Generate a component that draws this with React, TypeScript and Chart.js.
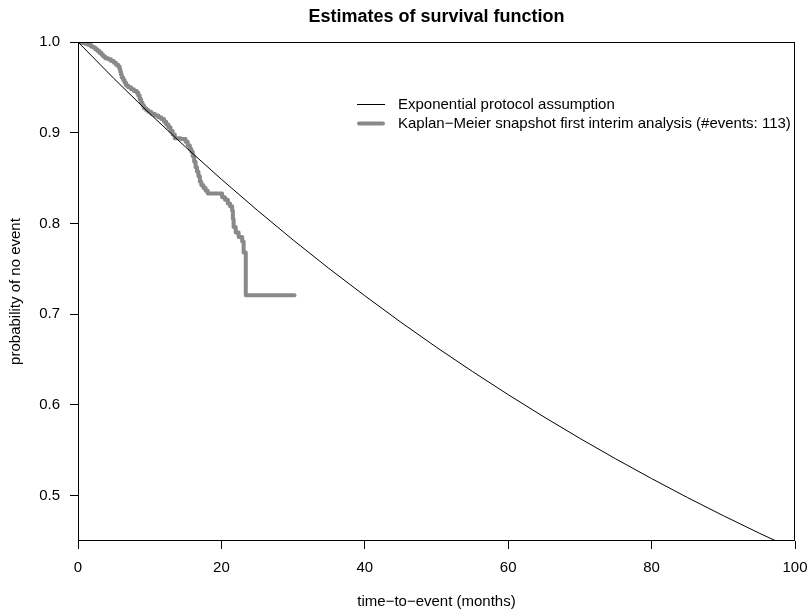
import React, { useEffect, useRef } from "react";
import { Chart, registerables } from "chart.js";

Chart.register(...registerables);

// ---- data ----
const expTimes = [0, 5, 10, 15, 20, 25, 30, 35, 40, 45, 50, 55, 60, 65, 70, 75, 80, 85, 90, 95, 100];
const expSurv = [1.0, 0.9598, 0.9212, 0.8842, 0.8487, 0.8146, 0.7818, 0.7504, 0.7203, 0.6913, 0.6635, 0.6369, 0.6113, 0.5867, 0.5631, 0.5405, 0.5188, 0.4979, 0.4779, 0.4587, 0.4403];

const kmTimes = [0, 0.6, 1.0, 1.4, 1.8, 2.1, 2.4, 2.7, 3.0, 3.3, 3.5, 3.8, 4.2, 4.6, 5.0, 5.3, 5.6, 5.8, 5.9, 6.0, 6.1, 6.3, 6.5, 6.7, 7.0, 7.4, 7.8, 8.2, 8.4, 8.6, 8.8, 9.0, 9.2, 9.5, 9.8, 10.2, 10.7, 11.2, 11.6, 12.0, 12.3, 12.6, 12.9, 13.2, 13.5, 14.3, 15.0, 15.3, 15.6, 15.8, 16.0, 16.2, 16.4, 16.6, 16.8, 17.0, 17.2, 17.5, 17.8, 18.1, 20.1, 20.5, 20.9, 21.2, 21.5, 21.6, 21.7, 22.0, 22.4, 22.9, 23.1, 23.4, 30.2];
const kmSurv = [1.0, 0.999, 0.998, 0.997, 0.995, 0.994, 0.992, 0.99, 0.988, 0.986, 0.984, 0.982, 0.981, 0.979, 0.977, 0.975, 0.973, 0.97, 0.967, 0.964, 0.961, 0.958, 0.955, 0.952, 0.95, 0.948, 0.946, 0.944, 0.941, 0.937, 0.933, 0.93, 0.927, 0.925, 0.923, 0.921, 0.919, 0.917, 0.915, 0.912, 0.909, 0.906, 0.902, 0.898, 0.894, 0.893, 0.89, 0.886, 0.882, 0.879, 0.874, 0.868, 0.862, 0.857, 0.852, 0.846, 0.842, 0.839, 0.836, 0.833, 0.829, 0.826, 0.822, 0.819, 0.814, 0.805, 0.796, 0.79, 0.785, 0.78, 0.768, 0.721, 0.721];

const xTickValues = [0, 20, 40, 60, 80, 100];
const yTickValues = [0.5, 0.6, 0.7, 0.8, 0.9, 1.0];

const titleText = "Estimates of survival function";
const xTitleText = "time\u2212to\u2212event (months)";
const yTitleText = "probability of no event";
const legendLabels = [
  "Exponential protocol assumption",
  "Kaplan\u2212Meier snapshot first interim analysis (#events: 113)",
];

const FONT = "'Liberation Sans', Arial, Helvetica, sans-serif";
const KM_COLOR = "#898989";

const rStylePlugin = {
  id: "rStyle",
  afterDraw(chart: any) {
    const { ctx, chartArea: a } = chart;
    ctx.save();
    // box
    ctx.strokeStyle = "#000";
    ctx.lineWidth = 1;
    ctx.strokeRect(
      Math.round(a.left) + 0.5,
      Math.round(a.top) + 0.5,
      Math.round(a.right - a.left) - 1,
      Math.round(a.bottom - a.top) - 1
    );
    // title
    ctx.fillStyle = "#000";
    ctx.font = `bold 18px ${FONT}`;
    ctx.textAlign = "center";
    ctx.textBaseline = "middle";
    ctx.fillText(titleText, (a.left + a.right) / 2, 17);

    // legend
    ctx.font = `15px ${FONT}`;
    ctx.textAlign = "left";
    const rows = [104.5, 123.5];
    ctx.beginPath();
    ctx.strokeStyle = "#000";
    ctx.lineWidth = 1;
    ctx.moveTo(357, rows[0]);
    ctx.lineTo(385, rows[0]);
    ctx.stroke();
    ctx.beginPath();
    ctx.strokeStyle = KM_COLOR;
    ctx.lineWidth = 4;
    ctx.lineCap = "round";
    ctx.moveTo(359, rows[1]);
    ctx.lineTo(383, rows[1]);
    ctx.stroke();
    ctx.fillStyle = "#000";
    ctx.fillText(legendLabels[0], 398, rows[0]);
    ctx.fillText(legendLabels[1], 398, rows[1]);
    ctx.restore();
  },
};

export default function App() {
  const canvasRef = useRef<HTMLCanvasElement | null>(null);

  useEffect(() => {
    if (!canvasRef.current) return;
    const expData = expTimes.map((t, i) => ({ x: t, y: expSurv[i] }));
    const kmData = kmTimes.map((t, i) => ({ x: t, y: kmSurv[i] }));
    const tickFont = { family: FONT, size: 15 };
    const chart = new Chart(canvasRef.current, {
      type: "line",
      data: {
        datasets: [
          {
            label: legendLabels[0],
            data: expData,
            borderColor: "#000",
            borderWidth: 1,
            pointRadius: 0,
            tension: 0,
            fill: false,
          },
          {
            label: legendLabels[1],
            data: kmData,
            borderColor: KM_COLOR,
            borderWidth: 4,
            pointRadius: 0,
            stepped: true,
            borderJoinStyle: "round",
            borderCapStyle: "round",
            fill: false,
          },
        ],
      },
      options: {
        animation: false,
        responsive: false,
        devicePixelRatio: 1,
        layout: { padding: { top: 42, right: 15, bottom: 0, left: 0 } },
        plugins: {
          legend: { display: false },
          tooltip: { enabled: false },
          title: { display: false },
        },
        scales: {
          x: {
            type: "linear",
            min: 0,
            max: 100,
            afterBuildTicks: (s: any) => {
              s.ticks = xTickValues.map((v) => ({ value: v }));
            },
            afterFit: (s: any) => {
              s.height = 72;
              s.paddingLeft = 0;
              s.paddingRight = 0;
            },
            grid: {
              display: true,
              drawOnChartArea: false,
              drawTicks: true,
              tickLength: 8,
              color: "#000",
              lineWidth: 1,
            },
            border: { display: false },
            ticks: {
              color: "#000",
              font: tickFont,
              padding: 10,
              maxRotation: 0,
              autoSkip: false,
              callback: (v: any) => String(v),
            },
            title: {
              display: true,
              text: xTitleText,
              color: "#000",
              font: tickFont,
              padding: { top: 0, bottom: 2 },
            },
          },
          y: {
            type: "linear",
            min: 0.45,
            max: 1.0,
            afterBuildTicks: (s: any) => {
              s.ticks = yTickValues.map((v) => ({ value: v }));
            },
            afterFit: (s: any) => {
              s.width = 78;
              s.paddingTop = 0;
              s.paddingBottom = 0;
            },
            grid: {
              display: true,
              drawOnChartArea: false,
              drawTicks: true,
              tickLength: 8,
              color: "#000",
              lineWidth: 1,
            },
            border: { display: false },
            ticks: {
              color: "#000",
              font: tickFont,
              padding: 10,
              autoSkip: false,
              callback: (v: any) => Number(v).toFixed(1),
            },
            title: {
              display: true,
              text: yTitleText,
              color: "#000",
              font: tickFont,
              padding: { top: 7, bottom: 0 },
            },
          },
        },
      },
      plugins: [rStylePlugin],
    });
    return () => chart.destroy();
  }, []);

  return (
    <div style={{ position: "fixed", left: 0, top: 0, width: 810, height: 613, background: "#fff" }}>
      <canvas ref={canvasRef} width={810} height={613} />
    </div>
  );
}
